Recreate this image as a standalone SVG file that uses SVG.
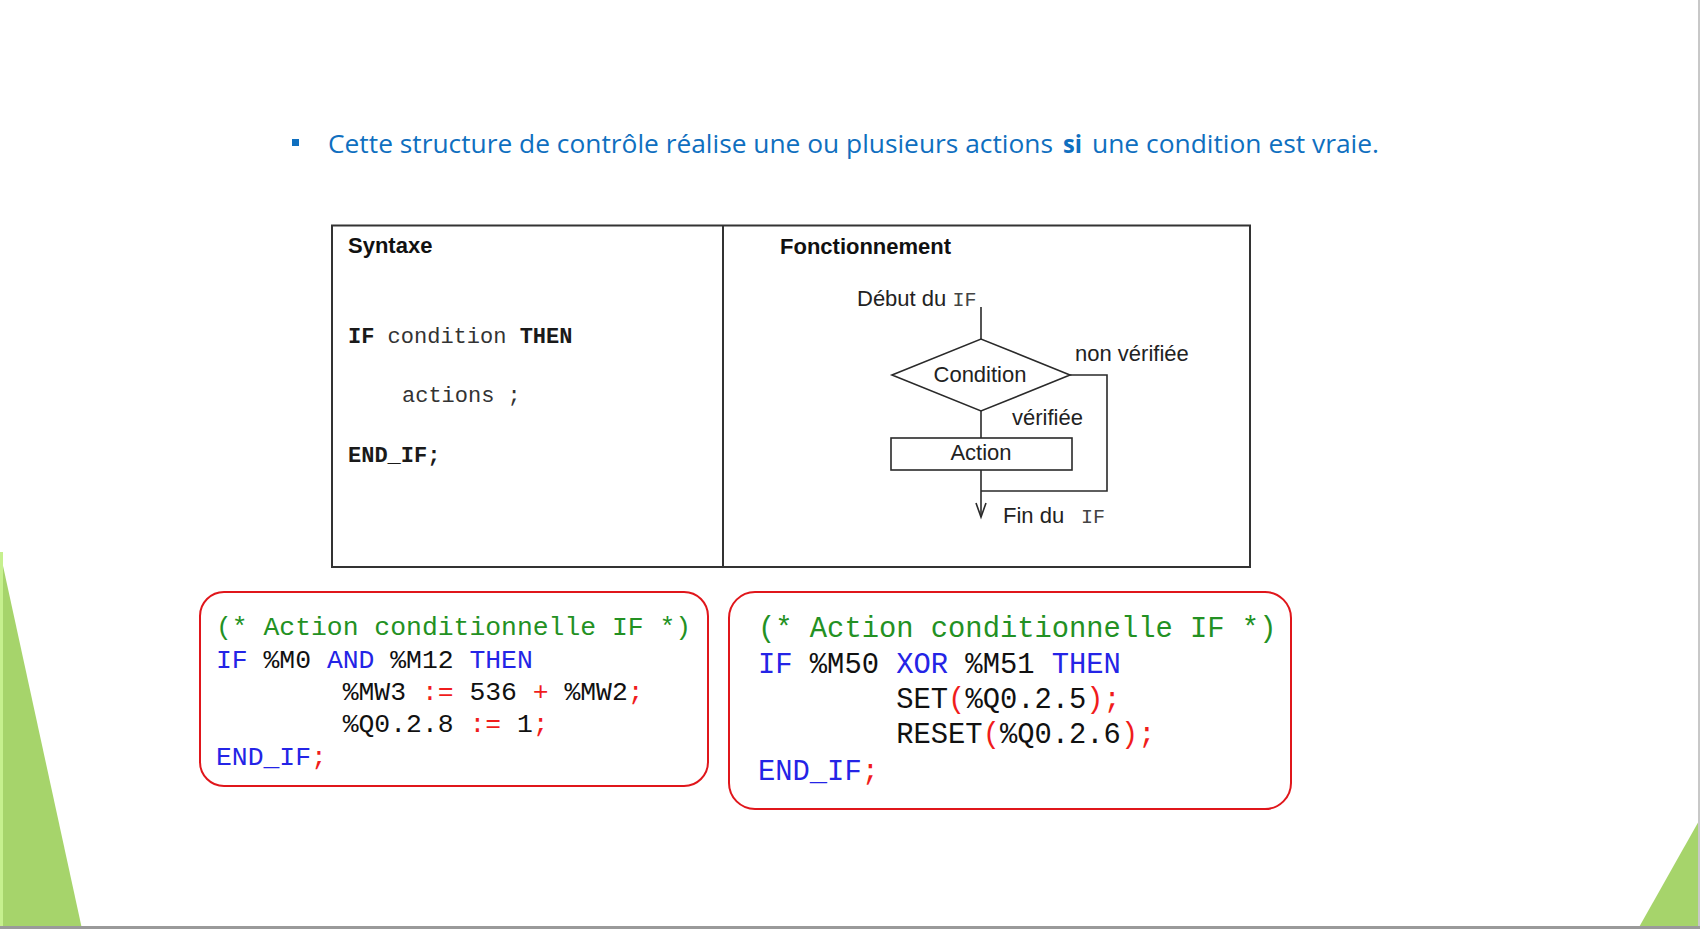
<svg xmlns="http://www.w3.org/2000/svg" width="1700" height="929" viewBox="0 0 1700 929">
<defs>
<style>
.title{font-family:"Open Sans","Liberation Sans",sans-serif;font-size:25px;fill:#0f6fbf}
.hd{font-family:"Liberation Sans",Arial,sans-serif;font-size:22px;font-weight:bold;fill:#111}
.fc{font-family:"Liberation Sans",Arial,sans-serif;font-size:22px;fill:#222}
.mono{font-family:"Liberation Mono","Courier New",monospace}
.syn{font-family:"Liberation Mono","Courier New",monospace;font-size:22px;fill:#333}
.b{font-weight:bold;fill:#1a1a1a}
.ln{fill:none;stroke:#2a2a2a;stroke-width:1.6}
.frame{fill:none;stroke:#333;stroke-width:2}
.codebox{fill:#fff;stroke:#e0161b;stroke-width:2}
.c1{font-family:"Liberation Mono","Courier New",monospace;font-size:26.4px;fill:#111}
.c2{font-family:"Liberation Mono","Courier New",monospace;font-size:28.8px;fill:#111}
.g{fill:#239123}
.k{fill:#2424e6}
.r{fill:#f01c1c}
.tri{fill:#a6d46b}
</style>
<marker id="vhead" markerWidth="14" markerHeight="18" refX="6" refY="15" orient="0" markerUnits="userSpaceOnUse">
<path d="M1,1 L6,15 L11,1" fill="none" stroke="#2a2a2a" stroke-width="1.6"/>
</marker>
</defs>
<rect width="1700" height="929" fill="#ffffff"/>
<g id="decor">
<polygon class="tri" points="0,552 82,929 0,929"/>
<rect x="0" y="552" width="3" height="377" fill="#c6f08e"/>
<polygon class="tri" points="1700,819 1700,929 1638,929"/>
<rect x="1698" y="0" width="2" height="929" fill="#c8c8c8"/>
<rect x="0" y="926" width="1700" height="3" fill="#9a9a9a"/>
</g>
<g id="title">
<rect x="292" y="139" width="7" height="7" fill="#0f6fbf"/>
<text class="title" x="328" y="153" textLength="725" lengthAdjust="spacingAndGlyphs">Cette structure de contrôle réalise une ou plusieurs actions</text>
<text class="title" x="1063" y="153" font-weight="bold" textLength="19" lengthAdjust="spacingAndGlyphs">si</text>
<text class="title" x="1092" y="153" textLength="287" lengthAdjust="spacingAndGlyphs">une condition est vraie.</text>
</g>
<g id="table">
<rect class="frame" x="332" y="225.5" width="918" height="341.5"/>
<line class="frame" x1="723" y1="225.5" x2="723" y2="567"/>
</g>
<g id="syntaxe">
<text class="hd" x="348" y="253">Syntaxe</text>
<text class="syn" x="348" y="343"><tspan class="b">IF</tspan> condition <tspan class="b">THEN</tspan></text>
<text class="syn" x="402" y="402">actions ;</text>
<text class="syn b" x="348" y="462">END_IF;</text>
</g>
<g id="fonctionnement">
<text class="hd" x="780" y="254">Fonctionnement</text>
</g>
<g id="debut">
<text class="fc" x="857" y="306">Début du <tspan class="mono" font-size="20" fill="#444">IF</tspan></text>
</g>
<g id="condition">
<polygon class="ln" points="892,375 981,339 1070,375 981,411"/>
<text class="fc" x="980" y="382" text-anchor="middle">Condition</text>
</g>
<g id="action">
<rect class="ln" x="891" y="438" width="181" height="32"/>
<text class="fc" x="981" y="460" text-anchor="middle">Action</text>
</g>
<g id="fin">
<text class="fc" x="1003" y="523">Fin du</text>
<text class="mono" x="1081" y="523" font-size="20" fill="#444">IF</text>
</g>
<g id="connectors">
<line class="ln" x1="981" y1="307" x2="981" y2="339"/>
<line class="ln" x1="981" y1="411" x2="981" y2="438"/>
<line class="ln" x1="981" y1="470" x2="981" y2="517" marker-end="url(#vhead)"/>
<polyline class="ln" points="1070,375 1107,375 1107,491 981,491"/>
<text class="fc" x="1075" y="361">non vérifiée</text>
<text class="fc" x="1012" y="425">vérifiée</text>
</g>
<g id="code1">
<rect class="codebox" x="200" y="592" width="508" height="194" rx="24"/>
<text class="c1" x="216" y="635" xml:space="preserve"><tspan class="g">(* Action conditionnelle IF *)</tspan></text>
<text class="c1" x="216" y="668" xml:space="preserve"><tspan class="k">IF</tspan> %M0 <tspan class="k">AND</tspan> %M12 <tspan class="k">THEN</tspan></text>
<text class="c1" x="216" y="700" xml:space="preserve">        %MW3<tspan class="r"> := </tspan>536<tspan class="r"> + </tspan>%MW2<tspan class="r">;</tspan></text>
<text class="c1" x="216" y="732" xml:space="preserve">        %Q0.2.8<tspan class="r"> := </tspan>1<tspan class="r">;</tspan></text>
<text class="c1" x="216" y="765" xml:space="preserve"><tspan class="k">END_IF</tspan><tspan class="r">;</tspan></text>
</g>
<g id="code2">
<rect class="codebox" x="729" y="592" width="562" height="217" rx="26"/>
<text class="c2" x="758" y="637" xml:space="preserve"><tspan class="g">(* Action conditionnelle IF *)</tspan></text>
<text class="c2" x="758" y="673" xml:space="preserve"><tspan class="k">IF</tspan> %M50 <tspan class="k">XOR</tspan> %M51 <tspan class="k">THEN</tspan></text>
<text class="c2" x="758" y="708" xml:space="preserve">        SET<tspan class="r">(</tspan>%Q0.2.5<tspan class="r">);</tspan></text>
<text class="c2" x="758" y="743" xml:space="preserve">        RESET<tspan class="r">(</tspan>%Q0.2.6<tspan class="r">);</tspan></text>
<text class="c2" x="758" y="780" xml:space="preserve"><tspan class="k">END_IF</tspan><tspan class="r">;</tspan></text>
</g>
</svg>
